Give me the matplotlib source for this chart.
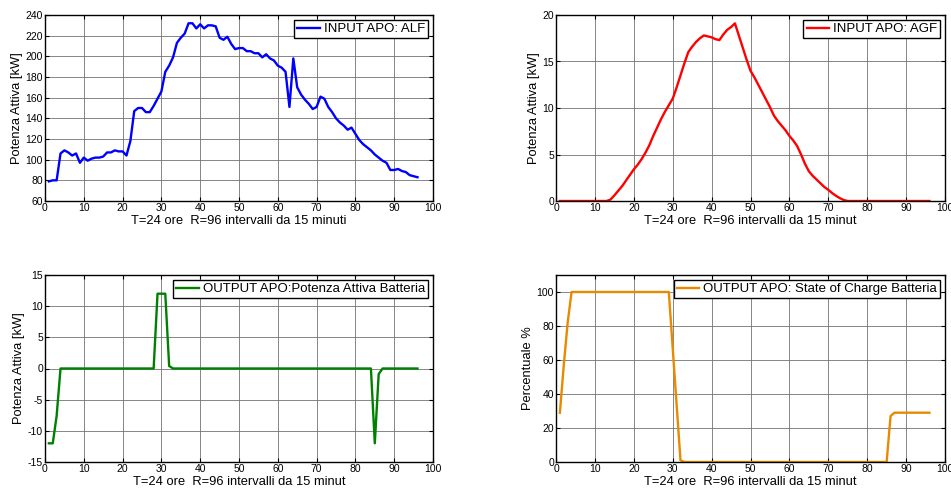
import numpy as np
import matplotlib
matplotlib.use("Agg")
import matplotlib.pyplot as plt

plt.rcParams["font.family"] = ["Liberation Sans", "DejaVu Sans"]
plt.rcParams["axes.unicode_minus"] = False

# intervals 1..96 (15 minutes each)
t = np.arange(1, 97)

alf = [79, 80, 80, 106, 109, 107, 104, 106, 97, 102, 99, 101, 102, 102, 103, 107,
       107, 109, 108, 108, 104, 118, 147, 150, 150, 146, 146, 152, 159, 166, 185, 191,
       199, 213, 218, 222, 232, 232, 227, 231, 227, 230, 230, 229, 218, 216, 219, 212,
       207, 208, 208, 205, 205, 203, 203, 199, 202, 198, 196, 191, 189, 185, 151, 198,
       170, 163, 158, 154, 149, 151, 161, 159, 151, 146, 140, 136, 133, 129, 131, 125,
       119, 115, 112, 109, 105, 102, 99, 97, 90, 90, 91, 89, 88, 85, 84, 83]

agf = [0, 0, 0, 0, 0, 0, 0, 0, 0, 0, 0, 0, 0, 0.15, 0.6, 1.1,
       1.6, 2.2, 2.8, 3.4, 3.9, 4.5, 5.2, 6.0, 7.0, 7.9, 8.8, 9.6, 10.3, 11.0, 12.2, 13.5,
       14.8, 16.0, 16.6, 17.1, 17.5, 17.8, 17.7, 17.6, 17.4, 17.3, 17.9, 18.4, 18.7, 19.1, 17.8, 16.5,
       15.2, 14.0, 13.3, 12.5, 11.7, 10.9, 10.1, 9.2, 8.6, 8.1, 7.6, 7.0, 6.5, 5.9, 5.0, 4.0,
       3.2, 2.7, 2.3, 1.9, 1.5, 1.2, 0.85, 0.55, 0.3, 0.1, 0, 0, 0, 0, 0, 0,
       0, 0, 0, 0, 0, 0, 0, 0, 0, 0, 0, 0, 0, 0, 0, 0]

p_batt = [-12, -12, -7.6, 0, 0, 0, 0, 0, 0, 0, 0, 0, 0, 0, 0, 0,
          0, 0, 0, 0, 0, 0, 0, 0, 0, 0, 0, 0, 12, 12, 12, 0.4,
          0, 0, 0, 0, 0, 0, 0, 0, 0, 0, 0, 0, 0, 0, 0, 0,
          0, 0, 0, 0, 0, 0, 0, 0, 0, 0, 0, 0, 0, 0, 0, 0,
          0, 0, 0, 0, 0, 0, 0, 0, 0, 0, 0, 0, 0, 0, 0, 0,
          0, 0, 0, 0, -12, -0.9, 0, 0, 0, 0, 0, 0, 0, 0, 0, 0]

soc = [29, 57, 82, 100, 100, 100, 100, 100, 100, 100, 100, 100, 100, 100, 100, 100,
       100, 100, 100, 100, 100, 100, 100, 100, 100, 100, 100, 100, 100, 67, 34, 1,
       0, 0, 0, 0, 0, 0, 0, 0, 0, 0, 0, 0, 0, 0, 0, 0,
       0, 0, 0, 0, 0, 0, 0, 0, 0, 0, 0, 0, 0, 0, 0, 0,
       0, 0, 0, 0, 0, 0, 0, 0, 0, 0, 0, 0, 0, 0, 0, 0,
       0, 0, 0, 0, 0, 27, 29, 29, 29, 29, 29, 29, 29, 29, 29, 29]

xlab_full = "T=24 ore  R=96 intervalli da 15 minuti"
xlab_cut = "T=24 ore  R=96 intervalli da 15 minut"

W, H = 951, 490
fig = plt.figure(figsize=(W / 100, H / 100), dpi=100)


def px_axes(x0, y0, x1, y1):
    return fig.add_axes([x0 / W, (H - y1) / H, (x1 - x0) / W, (y1 - y0) / H])


panels = [
    ((45, 15, 433, 201), alf, "#0000ff", "INPUT APO: ALF", (60, 240), np.arange(60, 241, 20),
     "Potenza Attiva [kW]", xlab_full),
    ((556, 15, 945, 201), agf, "#ff0000", "INPUT APO: AGF", (0, 20), np.arange(0, 21, 5),
     "Potenza Attiva [kW]", xlab_cut),
    ((45, 275, 433, 462), p_batt, "#008000", "OUTPUT APO:Potenza Attiva Batteria", (-15, 15),
     np.arange(-15, 16, 5), "Potenza Attiva [kW]", xlab_cut),
    ((556, 275, 945, 462), soc, "#e88a00", "OUTPUT APO: State of Charge Batteria", (0, 110),
     np.arange(0, 101, 20), "Percentuale %", xlab_cut),
]

for box, vals, col, lab, ylim, yt, ylab, xlab in panels:
    ax = px_axes(*box)
    ax.plot(t, vals, color=col, lw=1.7, label=lab)
    ax.set_xlim(0, 100)
    ax.set_ylim(*ylim)
    ax.set_xticks(np.arange(0, 101, 10))
    ax.set_yticks(yt)
    ax.grid(True, color="0.45", lw=0.6, ls="-")
    ax.tick_params(direction="in", top=True, right=True, length=3, width=0.8,
                   labelsize=7.5, pad=1.5)
    for s in ax.spines.values():
        s.set_linewidth(1.0)
    ax.set_xlabel(xlab, fontsize=9.3, labelpad=1.5)
    ax.set_ylabel(ylab, fontsize=9.3, labelpad=2)
    leg = ax.legend(loc="upper right", fontsize=9.5, handlelength=1.7, handletextpad=0.3,
                    borderpad=0.25, borderaxespad=0.35, fancybox=False, framealpha=1,
                    edgecolor="k")
    leg.get_frame().set_linewidth(1.0)

fig.savefig("out.png", dpi=100)
